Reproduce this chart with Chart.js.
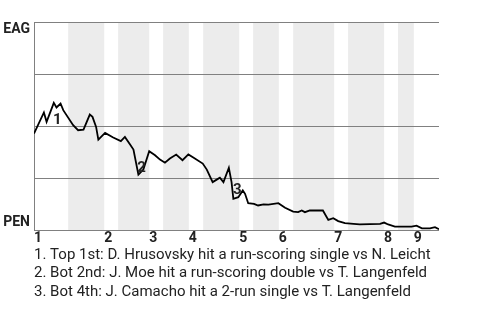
<!DOCTYPE html>
<html>
<head>
<meta charset="utf-8">
<script src="https://cdn.jsdelivr.net/npm/chart.js@4/dist/chart.umd.min.js"></script>
<style>
    body { margin: 0; background: #fff; }
    #wrap { width: 480px; height: 320px; }
</style>
</head>
<body>
<div id="wrap"><canvas id="wpChart" width="480" height="320"></canvas></div>
<script>
// Ось X — условный номер события (выход отбивающего), Y — вероятность победы EAG, %
const eventX = [0, 2.2, 2.8, 4.4, 5.0, 5.9, 6.5, 8.7, 9.8, 11.0, 12.4, 13.0, 13.8, 14.3, 15.8, 17.6, 19.3, 20.2,
    21.2, 22.1, 23.2, 24.3, 25.6, 26.9, 28.0, 29.1, 30.2, 31.6, 33.0, 34.3, 35.4, 37.5, 38.4, 39.7, 40.6, 41.3,
    42.1, 43.3, 43.9, 44.3, 45.4, 46.4, 46.9, 47.6, 48.9, 49.8, 51.0, 52.1, 54.3, 55.8, 57.6, 58.7, 59.5, 60.2,
    61.3, 64.2, 65.4, 66.5, 67.6, 69.1, 71.0, 72.4, 76.9, 77.8, 78.7, 80.2, 83.9, 85.0, 86.2, 88.0, 89.1, 90.0];
const eagWinPct = [46.5, 56.6, 52.1, 61.2, 59.0, 60.9, 57.7, 50.5, 48.1, 48.4, 55.6, 54.5, 49.7, 43.6, 46.8, 44.6, 42.9, 44.9,
    41.7, 38.8, 26.8, 29.2, 38.0, 36.1, 34.0, 32.5, 34.5, 36.4, 33.7, 36.5, 35.0, 32.1, 29.2, 23.2, 24.4, 25.3,
    23.2, 30.1, 23.2, 15.2, 16.0, 19.2, 17.6, 13.1, 12.8, 12.0, 12.5, 12.4, 13.1, 10.9, 9.1, 8.8, 9.6, 8.8,
    9.6, 9.6, 5.1, 5.9, 4.5, 3.5, 3.2, 2.9, 3.2, 3.8, 2.9, 1.9, 1.9, 2.3, 1.0, 1.0, 1.6, 0.6];

// Начало каждого иннинга и начало его нижней половины (серые полосы)
const inningStarts = [0, 15.6, 25.6, 34.4, 45.6, 54.4, 66.7, 77.8, 84.4];
const inningLabels = ['1', '2', '3', '4', '5', '6', '7', '8', '9'];
const bottomHalfStarts = [7.6, 18.7, 28.7, 37.6, 48.7, 57.6, 69.8, 80.9];
const xMax = 90;

// Подписи команд по оси Y
const teamLabels = ['PEN', 'EAG'];
const teamLabelValues = [4.0, 96.5];

// Ключевые моменты
const noteIds = ['1', '2', '3'];
const noteX = [5.2, 23.9, 45.2];
const noteY = [52.9, 29.7, 19.2];
const noteTexts = [
    '1. Top 1st: D. Hrusovsky hit a run-scoring single vs N. Leicht',
    '2. Bot 2nd: J. Moe hit a run-scoring double vs T. Langenfeld',
    '3. Bot 4th: J. Camacho hit a 2-run single vs T. Langenfeld'
];

Chart.defaults.font.family = 'Roboto';

// Серые полосы нижних половин иннингов
const inningBands = {
    id: 'inningBands',
    beforeDraw(chart) {
        const {ctx, chartArea, scales: {x}} = chart;
        ctx.save();
        ctx.fillStyle = '#ececec';
        bottomHalfStarts.forEach((start, i) => {
            const end = inningStarts[i + 1];
            const x1 = x.getPixelForValue(start);
            const x2 = x.getPixelForValue(end);
            ctx.fillRect(x1, chartArea.top, x2 - x1, chartArea.bottom - chartArea.top);
        });
        ctx.restore();
    }
};

// Номера ключевых моментов на линии
const noteMarkers = {
    id: 'noteMarkers',
    afterDatasetsDraw(chart) {
        const {ctx, scales: {x, y}} = chart;
        ctx.save();
        ctx.font = 'bold 15px Roboto';
        ctx.fillStyle = '#222';
        ctx.textAlign = 'center';
        ctx.textBaseline = 'middle';
        noteIds.forEach((id, i) => {
            ctx.fillText(id, x.getPixelForValue(noteX[i]), y.getPixelForValue(noteY[i]));
        });
        ctx.restore();
    }
};

new Chart(document.getElementById('wpChart'), {
    type: 'line',
    data: {
        datasets: [{
            data: eventX.map((v, i) => ({x: v, y: eagWinPct[i]})),
            borderColor: '#000',
            borderWidth: 1.8,
            pointRadius: 0,
            tension: 0,
            fill: false
        }]
    },
    options: {
        responsive: false,
        animation: false,
        layout: {padding: {left: 0, right: 41, top: 22, bottom: 19}},
        plugins: {
            legend: {display: false},
            tooltip: {enabled: false},
            title: {
                display: true,
                position: 'bottom',
                align: 'start',
                fullSize: false,
                text: noteTexts,
                color: '#222',
                font: {size: 15, weight: 'normal', lineHeight: '18.5px'},
                padding: 0
            }
        },
        scales: {
            x: {
                type: 'linear',
                min: 0,
                max: xMax,
                afterBuildTicks: scale => {
                    scale.ticks = inningStarts.map(v => ({value: v}));
                },
                afterFit: scale => { scale.height = 15; },
                grid: {display: false, drawTicks: false},
                border: {display: false},
                ticks: {
                    autoSkip: false,
                    maxRotation: 0,
                    align: 'start',
                    padding: 1,
                    color: '#222',
                    font: {size: 14, weight: 'bold', lineHeight: 1},
                    callback: (value, index) => inningLabels[index]
                }
            },
            y: {
                min: 0,
                max: 100,
                position: 'left',
                afterBuildTicks: scale => {
                    scale.ticks = [0, 25, 50, 75, 100].map(v => ({value: v}));
                },
                afterFit: scale => { scale.width = 0; },
                grid: {color: '#808080', lineWidth: 1, drawTicks: false},
                border: {display: false},
                ticks: {display: false}
            },
            yLabels: {
                min: 0,
                max: 100,
                position: 'left',
                afterBuildTicks: scale => {
                    scale.ticks = teamLabelValues.map(v => ({value: v}));
                },
                afterFit: scale => { scale.width = 34; },
                grid: {display: false, drawTicks: false},
                border: {display: true, color: '#808080', width: 1},
                ticks: {
                    padding: 4,
                    color: '#222',
                    font: {size: 14, weight: 'bold'},
                    callback: (value, index) => teamLabels[index]
                }
            }
        }
    },
    plugins: [inningBands, noteMarkers]
});
</script>
</body>
</html>
